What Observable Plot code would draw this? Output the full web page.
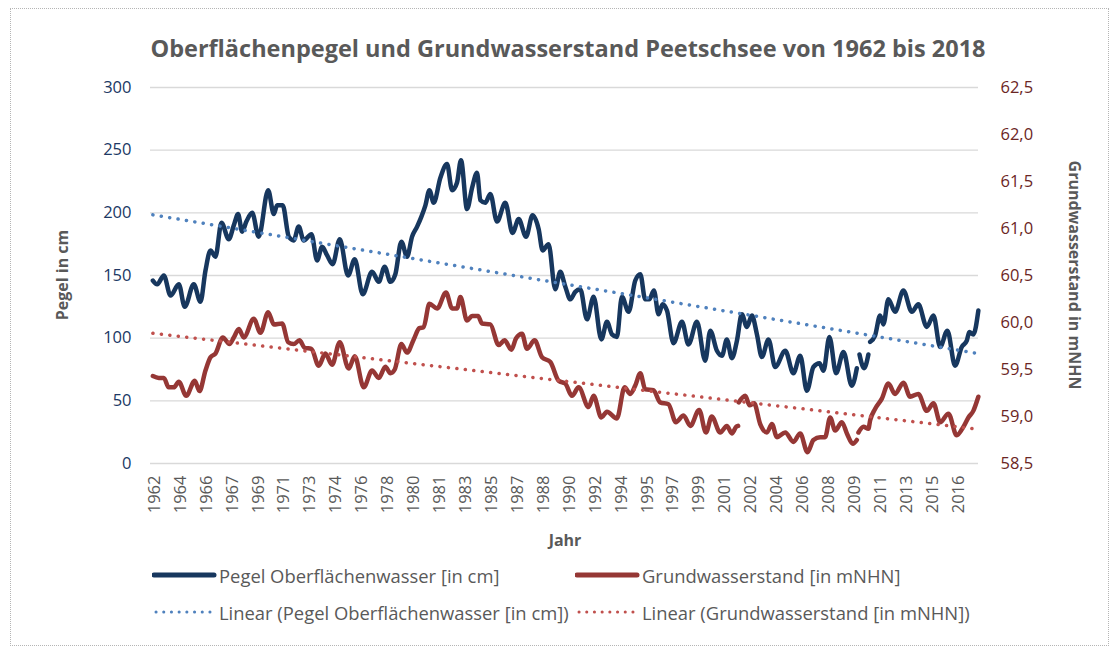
<!DOCTYPE html>
<html><head><meta charset="utf-8">
<script src="https://cdn.jsdelivr.net/npm/d3@7"></script>
<script src="https://cdn.jsdelivr.net/npm/@observablehq/plot@0.6"></script>
<style>
body{margin:0;background:#fff;font-family:"Open Sans",sans-serif;}
#wrap{position:relative;width:1118px;height:648px;overflow:hidden;background:#fff;}
#frame{position:absolute;left:10px;top:8px;width:1097px;height:636px;border:1px dotted #b5b5b5;}
#title{position:absolute;left:0;width:1136px;top:32px;text-align:center;font-weight:700;font-size:23.5px;color:#595959;white-space:nowrap;}
.ax{position:absolute;font-weight:700;font-size:16px;color:#595959;white-space:nowrap;}
#chart{position:absolute;left:0;top:60px;}
.leg{position:absolute;display:flex;align-items:center;height:26px;font-size:18.4px;color:#595959;white-space:nowrap;}
.leg svg{display:block;}
</style></head>
<body><div id="wrap">
<div id="frame"></div>
<div id="title">Oberflächenpegel und Grundwasserstand Peetschsee von 1962 bis 2018</div>
<div id="chart"></div>
<div class="ax" style="left:62px;top:275px;transform:translate(-50%,-50%) rotate(-90deg);">Pegel in cm</div>
<div class="ax" style="left:1075px;top:275px;transform:translate(-50%,-50%) rotate(90deg);">Grundwasserstand in mNHN</div>
<div class="ax" style="left:565px;top:540px;transform:translate(-50%,-50%);">Jahr</div>
<div id="legend"></div>
</div>
<script>
const xLabels = ["1962","1964","1966","1967","1969","1971","1973","1974","1976","1978","1980","1981","1983","1985","1987","1988","1990","1992","1994","1995","1997","1999","2001","2002","2004","2006","2008","2009","2011","2013","2015","2016"];
const leftTicks = [0,50,100,150,200,250,300];
const rightTicks = [58.5,59,59.5,60,60.5,61,61.5,62,62.5];
const rightLabels = ["58,5","59,0","59,5","60,0","60,5","61,0","61,5","62,0","62,5"];

const pegelYears = [1961.89,1962.18,1962.63,1963.08,1963.64,1964.04,1964.65,1965.10,1965.44,1965.78,
1966.11,1966.52,1967.01,1967.35,1967.64,1967.91,1968.20,1968.59,1969.03,1969.67,
1970.05,1970.27,1970.65,1971.06,1971.39,1971.73,1972.07,1972.59,1972.97,1973.31,
1973.65,1974.02,1974.50,1975.06,1975.51,1976.05,1976.68,1977.13,1977.53,1977.92,
1978.25,1978.66,1979.04,1979.38,1979.72,1980.01,1980.28,1980.55,1980.84,1981.29,
1981.74,1982.08,1982.41,1982.68,1983.09,1983.43,1983.76,1983.99,1984.32,1984.66,
1985.11,1985.67,1986.16,1986.57,1987.07,1987.51,1987.92,1988.19,1988.59,1989.04,
1989.38,1989.72,1990.06,1990.39,1990.73,1991.18,1991.63,1992.15,1992.53,1992.87,
1993.20,1993.54,1993.99,1994.44,1994.78,1995.11,1995.38,1995.70,1996.01,1996.28,
1996.58,1997.02,1997.59,1998.03,1998.60,1999.16,1999.50,1999.95,2000.29,2000.62,
2000.96,2001.30,2001.63,2001.97,2002.31,2002.65,2002.98,2003.43,2003.88,2004.56,
2005.11,2005.57,2006.02,2006.46,2006.87,2007.14,2007.54,2007.99,2008.49,2009.05,
2009.39,2009.48,2009.57,2009.88,2010.17,2010.23,2010.29,2010.62,2010.96,2011.18,
2011.52,2011.97,2012.53,2013.10,2013.54,2014.11,2014.56,2015.01,2015.50,2016.02,
2016.47,2016.81,2016.98,2017.25,2017.59];
const pegelValues = [146,143,150,134,143,125,143,129,154,170,
165,192,179,190,199,185,193,200,181,218,
199,206,206,181,178,189,178,183,162,173,
166,159,179,150,163,135,153,145,157,145,
151,177,165,181,189,197,206,218,208,228,
239,218,224,242,203,220,232,210,208,215,
193,208,184,195,181,198,187,170,175,139,
153,141,131,137,139,115,133,99,113,103,
101,133,121,146,151,131,131,138,119,127,
122,96,113,95,113,82,106,90,86,99,
84,98,119,109,118,103,85,99,77,90,
72,86,58,77,80,74,101,72,89,62,
76,null,87,76,87,null,97,102,118,111,
131,121,138,121,127,109,118,93,106,78,
93,98,105,103,122];

const grundYears = [1961.89,1962.29,1962.63,1962.96,1963.30,1963.64,1964.14,1964.72,1965.03,1965.44,
1965.78,1966.11,1966.61,1967.06,1967.35,1967.69,1968.02,1968.70,1969.15,1969.67,
1970.05,1970.61,1971.02,1971.39,1971.78,1972.14,1972.59,1973.08,1973.53,1973.98,
1974.50,1975.10,1975.51,1976.12,1976.68,1977.13,1977.58,1977.92,1978.21,1978.66,
1979.04,1979.49,1979.87,1980.16,1980.55,1981.07,1981.67,1982.08,1982.41,1982.64,
1983.09,1983.43,1983.83,1984.10,1984.66,1985.22,1985.62,1986.08,1986.39,1986.80,
1987.13,1987.65,1988.15,1988.71,1989.27,1989.72,1990.17,1990.62,1991.29,1991.63,
1992.15,1992.53,1993.20,1993.72,1994.10,1994.44,1994.78,1995.11,1995.67,1996.12,
1996.68,1997.18,1997.70,1998.15,1998.75,1999.21,1999.60,2000.17,2000.62,2000.96,
2001.25,2001.38,2001.40,2001.42,2001.86,2002.15,2002.46,2002.87,2003.32,2003.66,
2004.00,2004.56,2005.11,2005.57,2006.06,2006.46,2006.92,2007.25,2007.59,2007.93,
2008.38,2008.72,2009.12,2009.39,2009.45,2009.50,2009.84,2010.17,2010.29,2010.62,
2011.08,2011.52,2011.97,2012.53,2012.99,2013.54,2014.11,2014.56,2015.01,2015.57,
2016.13,2016.58,2016.92,2017.25,2017.59];
const grundValues = [59.43,59.41,59.41,59.31,59.31,59.37,59.22,59.38,59.27,59.49,
59.63,59.67,59.84,59.77,59.84,59.93,59.84,60.04,59.89,60.11,
59.98,59.99,59.79,59.77,59.81,59.73,59.72,59.54,59.67,59.55,
59.79,59.51,59.64,59.31,59.49,59.41,59.53,59.46,59.50,59.77,
59.68,59.82,59.94,59.95,60.20,60.15,60.32,60.15,60.15,60.27,
60.02,60.07,60.07,59.99,59.98,59.76,59.81,59.71,59.83,59.88,
59.72,59.81,59.63,59.58,59.38,59.35,59.22,59.31,59.10,59.22,
58.99,59.05,58.98,59.31,59.24,59.33,59.46,59.29,59.28,59.15,
59.13,58.94,59.01,58.90,59.07,58.83,59.00,58.83,58.90,58.82,
58.89,58.90,null,59.15,59.22,59.12,59.14,58.92,58.83,58.92,
58.78,58.83,58.73,58.82,58.62,58.75,58.78,58.78,58.99,58.85,
58.94,58.82,58.71,58.75,null,58.83,58.89,58.87,58.96,59.08,
59.19,59.35,59.24,59.36,59.21,59.24,59.06,59.14,58.94,59.03,
58.80,58.89,58.99,59.06,59.21];

const C_PEGEL = "#17375e", C_GRUND = "#953735", C_TP = "#4f81bd", C_TG = "#c0504d";
const rightBase = 58.5, cmPerM = 75;
const toLeft = r => (r == null ? NaN : (r - rightBase) * cmPerM);

const pegel = pegelYears.map((x, i) => ({x, y: pegelValues[i] == null ? NaN : pegelValues[i]}));
const grund = grundYears.map((x, i) => ({x, y: toLeft(grundValues[i])}));
const xTickYears = xLabels.map((_, i) => 1962 + 1.75 * i);

const plot = Plot.plot({
  width: 1118, height: 500,
  marginTop: 27, marginBottom: 97, marginLeft: 150, marginRight: 140,
  x: {domain: [1961.73, 2017.6]},
  y: {domain: [0, 300]},
  style: {fontFamily: "'Open Sans', sans-serif", background: "transparent", overflow: "visible"},
  marks: [
    Plot.gridY(leftTicks, {stroke: "#d9d9d9", strokeOpacity: 1, strokeWidth: 1.3}),
    Plot.axisY({ticks: leftTicks, tickSize: 0, tickPadding: 19, fontSize: 16.5, fill: "#203864", label: null}),
    Plot.axisY({anchor: "right", ticks: rightTicks.map(toLeft), tickFormat: d => rightLabels[Math.round(d / 37.5)], tickSize: 0, tickPadding: 22, fontSize: 16.5, fill: "#6b2624", label: null}),
    Plot.axisX({ticks: xTickYears, tickFormat: d => xLabels[Math.round((d - 1962) / 1.75)], tickRotate: -90, tickSize: 0, tickPadding: 12, fontSize: 16.5, fill: "#595959", label: null}),
    Plot.line(pegel, {x: "x", y: "y", stroke: C_PEGEL, strokeWidth: 4.5, curve: "monotone-x", strokeLinejoin: "round", strokeLinecap: "round"}),
    Plot.line(grund, {x: "x", y: "y", stroke: C_GRUND, strokeWidth: 4.5, curve: "monotone-x", strokeLinejoin: "round", strokeLinecap: "round"}),
    Plot.linearRegressionY(pegel.filter(d => !isNaN(d.y)), {x: "x", y: "y", stroke: C_TP, strokeWidth: 3.5, strokeDasharray: "0.1,8.4", strokeLinecap: "round", ci: 0}),
    Plot.linearRegressionY(grund.filter(d => !isNaN(d.y)), {x: "x", y: "y", stroke: C_TG, strokeWidth: 3.5, strokeDasharray: "0.1,8.4", strokeLinecap: "round", ci: 0})
  ]
});
document.getElementById("chart").appendChild(plot);

const legendItems = [
  {label: "Pegel Oberflächenwasser [in cm]", color: C_PEGEL, dotted: false, left: 152, top: 575},
  {label: "Grundwasserstand [in mNHN]", color: C_GRUND, dotted: false, left: 575, top: 575},
  {label: "Linear (Pegel Oberflächenwasser [in cm])", color: C_TP, dotted: true, left: 152, top: 612},
  {label: "Linear (Grundwasserstand [in mNHN])", color: C_TG, dotted: true, left: 575, top: 612}
];
const leg = document.getElementById("legend");
for (const it of legendItems) {
  const div = document.createElement("div");
  div.className = "leg";
  div.style.left = it.left + "px";
  div.style.top = (it.top - 13) + "px";
  const line = it.dotted
    ? `<line x1="4" y1="13" x2="58" y2="13" stroke="${it.color}" stroke-width="3" stroke-dasharray="0.1,7.6" stroke-linecap="round"/>`
    : `<line x1="2" y1="13" x2="62" y2="13" stroke="${it.color}" stroke-width="5" stroke-linecap="round"/>`;
  div.innerHTML = `<svg width="67" height="26">${line}</svg><span>${it.label}</span>`;
  leg.appendChild(div);
}
</script>
</body></html>
